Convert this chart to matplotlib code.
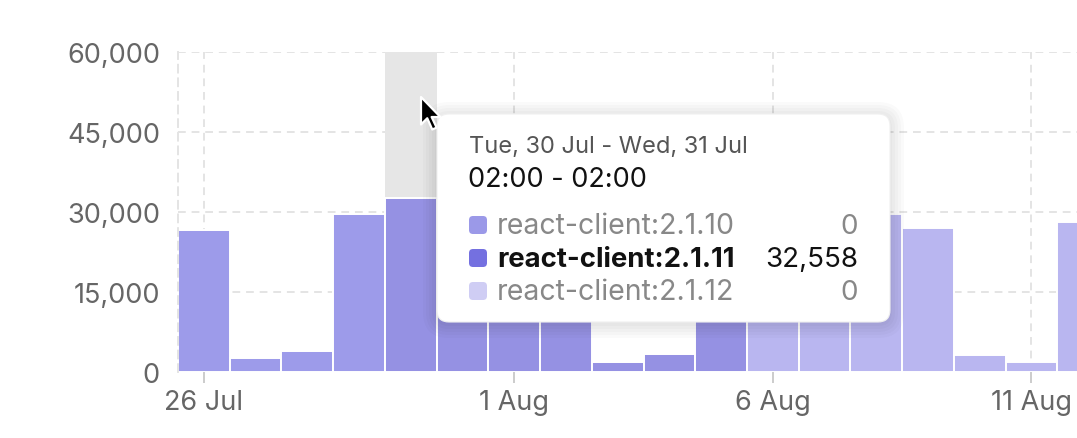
import numpy as np
import matplotlib.pyplot as plt
from matplotlib.patches import FancyBboxPatch, Polygon
from matplotlib.transforms import IdentityTransform
from matplotlib.ticker import FuncFormatter

plt.rcParams['font.family'] = ['Inter', 'DejaVu Sans']

# daily bins (02:00 -> 02:00), 26 Jul .. 12 Aug
days = ['26 Jul', '27 Jul', '28 Jul', '29 Jul', '30 Jul', '31 Jul', '1 Aug', '2 Aug', '3 Aug',
        '4 Aug', '5 Aug', '6 Aug', '7 Aug', '8 Aug', '9 Aug', '10 Aug', '11 Aug', '12 Aug']
v_2110 = [26600, 2600, 3900, 29600, 0, 0, 0, 0, 0, 0, 0, 0, 0, 0, 0, 0, 0, 0]
v_2111 = [0, 0, 0, 0, 32558, 31200, 30400, 28800, 1900, 3400, 30200, 0, 0, 0, 0, 0, 0, 0]
v_2112 = [0, 0, 0, 0, 0, 0, 0, 0, 0, 0, 0, 30800, 30300, 29600, 27000, 3200, 1900, 28100]
versions = ['react-client:2.1.10', 'react-client:2.1.11', 'react-client:2.1.12']
tick_days = ['26 Jul', '1 Aug', '6 Aug', '11 Aug']
hover_day = '30 Jul'
hover_title = ['Tue, 30 Jul - Wed, 31 Jul', '02:00 - 02:00']

bar_colors = ['#9d9bea', '#9591e3', '#b9b6f0']
swatch_colors = ['#9b99e8', '#7470e0', '#cfcdf4']

W, H = 1077, 439
fig = plt.figure(figsize=(W / 100, H / 100), dpi=100)
ax = fig.add_axes([178 / W, 66 / H, 899 / W, 320 / H])

x = np.arange(len(days))
series = [v_2110, v_2111, v_2112]
hi = days.index(hover_day)

# hover band behind hovered bar
ax.bar(x[hi], 60000, width=1.0, color='#e6e6e6', zorder=1, linewidth=0)

bottom = np.zeros(len(days))
for vals, col in zip(series, bar_colors):
    ax.bar(x, vals, bottom=bottom, width=1.0, color=col, edgecolor='white',
           linewidth=1.4, zorder=2)
    bottom += np.array(vals)

ax.set_xlim(-0.5, 16.88)
ax.set_ylim(0, 60000)
ax.set_yticks([0, 15000, 30000, 45000, 60000])
ax.yaxis.set_major_formatter(FuncFormatter(lambda v, p: f'{int(v):,}'))
ax.set_xticks([days.index(d) for d in tick_days])
ax.set_xticklabels(tick_days)

ax.grid(True, color='#e4e4e4', linestyle=(0, (4, 3)), linewidth=1.4, zorder=0)
ax.set_axisbelow(True)
for s in ['top', 'right', 'bottom']:
    ax.spines[s].set_visible(False)
ax.spines['left'].set_color('#e4e4e4')
ax.spines['left'].set_linestyle((0, (4, 3)))
ax.spines['left'].set_linewidth(1.4)

ax.tick_params(axis='y', length=0, pad=13, labelsize=19.5, labelcolor='#666666')
ax.tick_params(axis='x', length=8, width=1.4, color='#cccccc', pad=4,
               labelsize=19.5, labelcolor='#666666')

# tooltip (pixel coords, y from top)
ident = IdentityTransform()
def P(px, py):
    return px, H - py

tx0, ty0, tx1, ty1 = 437, 115, 890, 323
for i in range(5):
    g = 2 + i * 3
    fig.add_artist(FancyBboxPatch(P(tx0 - g, ty1 + g + 2), (tx1 - tx0) + 2 * g, (ty1 - ty0) + 2 * g,
                                  boxstyle='round,pad=0,rounding_size=%d' % (12 + g),
                                  transform=ident, facecolor='black', alpha=0.018, linewidth=0))
fig.add_artist(FancyBboxPatch(P(tx0, ty1), tx1 - tx0, ty1 - ty0,
                              boxstyle='round,pad=0,rounding_size=12', transform=ident,
                              facecolor='white', edgecolor='#f0f0f0', linewidth=0.8))

fig.text(*P(469, 153), hover_title[0], transform=ident, fontsize=17, color='#555555')
fig.text(*P(468, 187), hover_title[1], transform=ident, fontsize=19.5, color='#111111')

row_base = [234, 267, 300]
for k, (name, vals) in enumerate(zip(versions, series)):
    active = vals[hi] > 0
    yb = row_base[k]
    fig.add_artist(FancyBboxPatch(P(469, yb + 1), 18, 18, boxstyle='round,pad=0,rounding_size=4',
                                  transform=ident, facecolor=swatch_colors[k], linewidth=0))
    fig.text(*P(497, yb), name, transform=ident, fontsize=19.8 if active else 20.5,
             color='#111111' if active else '#888888',
             fontweight='bold' if active else 'normal')
    fig.text(*P(858, yb), f'{vals[hi]:,}', transform=ident, fontsize=20, ha='right',
             color='#111111' if active else '#888888')

# mouse pointer
shape = np.array([(0, 0), (0, 22), (5, 17), (9, 26), (12.5, 24.5), (8.5, 16), (15.5, 16)])
pts = [P(421 + 1.25 * sx, 98 + 1.25 * sy) for sx, sy in shape]
fig.add_artist(Polygon(pts, closed=True, transform=ident, facecolor='black',
                       edgecolor='white', linewidth=1.6, joinstyle='round'))

fig.savefig('out.png', dpi=100)
